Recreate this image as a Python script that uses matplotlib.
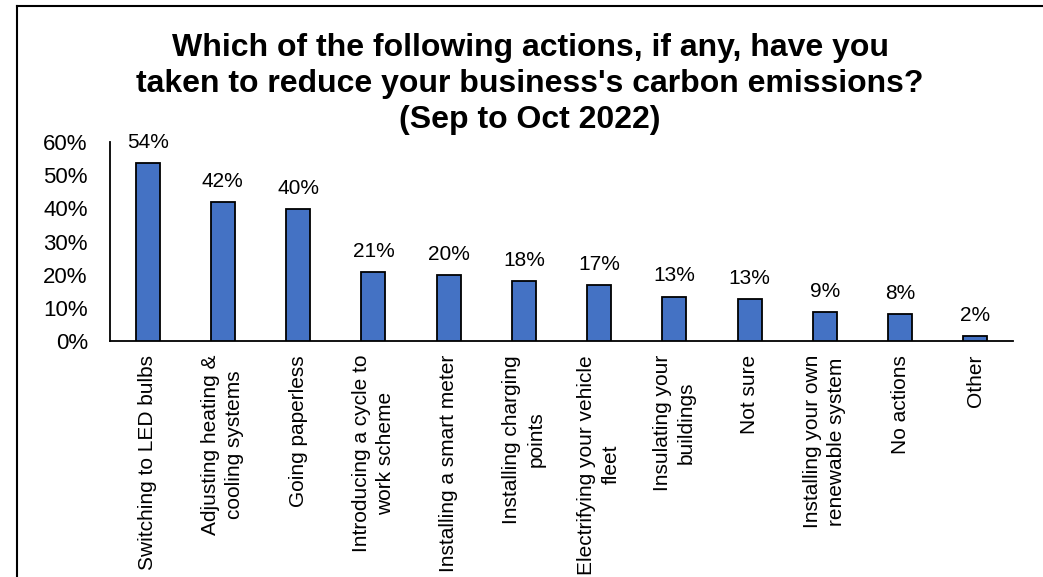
import matplotlib
matplotlib.use("Agg")
import matplotlib.pyplot as plt
from matplotlib.lines import Line2D
import numpy as np

plt.rcParams['font.family'] = ['Liberation Sans', 'DejaVu Sans']

categories = [
    "Switching to LED bulbs",
    "Adjusting heating &\ncooling systems",
    "Going paperless",
    "Introducing a cycle to\nwork scheme",
    "Installing a smart meter",
    "Installing charging\npoints",
    "Electrifying your vehicle\nfleet",
    "Insulating your\nbuildings",
    "Not sure",
    "Installing your own\nrenewable system",
    "No actions",
    "Other",
]
values = [53.6, 41.9, 39.8, 20.7, 19.9, 18.1, 17.0, 13.4, 12.7, 8.8, 8.1, 1.6]
value_labels = ["54%", "42%", "40%", "21%", "20%", "18%", "17%", "13%", "13%", "9%", "8%", "2%"]
yticks = [0, 10, 20, 30, 40, 50, 60]
ytick_labels = ["0%", "10%", "20%", "30%", "40%", "50%", "60%"]
title = ("Which of the following actions, if any, have you\n"
         "taken to reduce your business's carbon emissions?\n"
         "(Sep to Oct 2022)")

W, H = 1043, 577
fig = plt.figure(figsize=(W / 100, H / 100), dpi=100)
ax = fig.add_axes([110 / W, 1 - 341 / H, (1013 - 110) / W, (341 - 142) / H])

x = np.arange(len(categories))
bars = ax.bar(x, values, width=0.32, color="#4472C4", edgecolor="black", linewidth=1.3, zorder=3)

for xi, v, lab in zip(x, values, value_labels):
    ax.annotate(lab, (xi, v), xytext=(0, 8), textcoords="offset points",
                ha="center", va="bottom", fontsize=15)

ax.set_xlim(-0.5, len(categories) - 0.5)
ax.set_ylim(0, 60)
ax.set_yticks(yticks)
ax.set_yticklabels(ytick_labels, fontsize=16)
ax.set_xticks(x)
ax.set_xticklabels(categories, rotation=90, fontsize=15, ha="center", va="top",
                   multialignment="center", linespacing=1.35)
ax.tick_params(axis="y", length=0, pad=16)
ax.tick_params(axis="x", length=0, pad=10)
for s in ["top", "right"]:
    ax.spines[s].set_visible(False)
ax.spines["left"].set_linewidth(1.3)
ax.spines["bottom"].set_linewidth(1.3)

fig.text(530 / W, 1 - 33 / H, title, ha="center", va="top", fontsize=23,
         fontweight="bold", linespacing=1.27)

# border frame (left and top edges)
fig.add_artist(Line2D([17 / W, 17 / W], [0, 1 - 6 / H], transform=fig.transFigure,
                      color="black", linewidth=1.5))
fig.add_artist(Line2D([17 / W, 1], [1 - 6 / H, 1 - 6 / H], transform=fig.transFigure,
                      color="black", linewidth=1.5))

fig.savefig("out.png", dpi=100)
